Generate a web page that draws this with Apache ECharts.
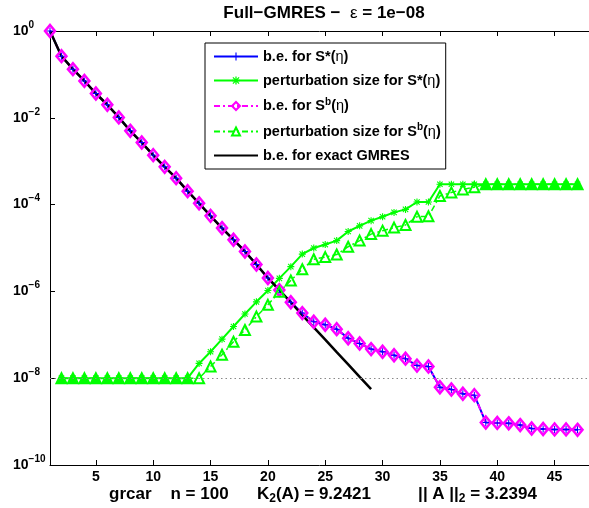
<!DOCTYPE html>
<html>
<head>
<meta charset="utf-8">
<script src="https://cdn.jsdelivr.net/npm/echarts@6/dist/echarts.min.js"></script>
<style>
  html, body { margin: 0; padding: 0; background: #fff; }
  #chart { width: 589px; height: 508px; }
</style>
</head>
<body>
<div id="chart"></div>
<script>
// 迭代步
var iters = [1, 2, 3, 4, 5, 6, 7, 8, 9, 10, 11, 12, 13, 14, 15, 16, 17, 18, 19, 20,
  21, 22, 23, 24, 25, 26, 27, 28, 29, 30, 31, 32, 33, 34, 35, 36, 37, 38, 39, 40,
  41, 42, 43, 44, 45, 46, 47];
var xTicks = [5, 10, 15, 20, 25, 30, 35, 40, 45];
var yTicks = [1e-10, 1e-8, 1e-6, 1e-4, 1e-2, 1];
var tol = 1e-8;

// b.e. for S*(eta) / S^b(eta), k = 1..47
var beStar = [1, 2.63e-1, 1.32e-1, 7.08e-2, 3.63e-2, 2.0e-2, 1.02e-2, 5.01e-3, 2.69e-3, 1.38e-3,
  7.41e-4, 4.07e-4, 2.04e-4, 1.07e-4, 5.5e-5, 2.88e-5, 1.55e-5, 8.32e-6, 4.17e-6, 2.04e-6,
  1.07e-6, 5.62e-7, 3.16e-7, 2.0e-7, 1.7e-7, 1.35e-7, 8.32e-8, 6.31e-8, 4.68e-8, 4.07e-8,
  3.39e-8, 2.82e-8, 1.95e-8, 1.86e-8, 6.17e-9, 5.5e-9, 4.37e-9, 4.07e-9, 9.55e-10, 9.33e-10,
  9.12e-10, 8.32e-10, 6.92e-10, 6.76e-10, 6.61e-10, 6.61e-10, 6.46e-10];
var beB = beStar.slice();
// perturbation sizes, k = 2..47
var pertStar = [1e-8, 1e-8, 1e-8, 1e-8, 1e-8, 1e-8, 1e-8, 1e-8, 1e-8, 1e-8, 1e-8, 1e-8,
  2.19e-8, 4.07e-8, 7.94e-8, 1.55e-7, 3.02e-7, 5.75e-7, 1.05e-6, 2.0e-6, 3.72e-6, 7.24e-6,
  1.0e-5, 1.2e-5, 1.48e-5, 2.4e-5, 3.24e-5, 4.27e-5, 5.25e-5, 6.61e-5, 7.76e-5, 1.15e-4,
  1.15e-4, 2.95e-4, 2.95e-4, 2.95e-4, 2.95e-4, 2.95e-4, 2.95e-4, 2.95e-4, 2.95e-4, 2.95e-4,
  2.95e-4, 2.95e-4, 2.95e-4, 2.95e-4];
var pertB = [1e-8, 1e-8, 1e-8, 1e-8, 1e-8, 1e-8, 1e-8, 1e-8, 1e-8, 1e-8, 1e-8, 1e-8,
  1e-8, 1.86e-8, 3.47e-8, 6.92e-8, 1.29e-7, 2.63e-7, 4.9e-7, 9.77e-7, 1.78e-6, 3.24e-6,
  5.5e-6, 6.17e-6, 7.08e-6, 1.07e-5, 1.48e-5, 2.09e-5, 2.51e-5, 2.95e-5, 3.39e-5, 5.25e-5,
  5.37e-5, 1.58e-4, 1.91e-4, 2.24e-4, 2.51e-4, 2.95e-4, 2.95e-4, 2.95e-4, 2.95e-4, 2.95e-4,
  2.95e-4, 2.95e-4, 2.95e-4, 2.95e-4];
// exact GMRES, k = 1..29
var beExact = [1, 2.63e-1, 1.32e-1, 7.08e-2, 3.63e-2, 2.0e-2, 1.02e-2, 5.01e-3, 2.69e-3, 1.38e-3,
  7.41e-4, 4.07e-4, 2.04e-4, 1.07e-4, 5.5e-5, 2.88e-5, 1.55e-5, 8.32e-6, 4.17e-6, 2.04e-6,
  1.07e-6, 5.62e-7, 2.82e-7, 1.48e-7, 7.76e-8, 3.98e-8, 2.09e-8, 1.07e-8, 5.62e-9];

var font = '"Liberation Sans", Arial, Helvetica, sans-serif';

function pairs(ys, start) {
  return ys.map(function (v, i) { return [iters[i + start], v]; });
}

// 三角形：与 * 曲线重合处显示为实心
var pertBData = pertB.map(function (v, i) {
  var item = { value: [iters[i + 1], v] };
  if (v === pertStar[i]) item.itemStyle = { color: '#00ff00' };
  return item;
});

var plusPath = 'path://M0,4.3H10V5.7H0Z M4.3,0H5.7V10H4.3Z';
var starPath = 'path://M0,4.2H10V5.8H0Z M4.2,0H5.8V10H4.2Z M0.6,1.7L1.7,0.6L9.4,8.3L8.3,9.4Z M8.3,0.6L9.4,1.7L1.7,9.4L0.6,8.3Z';

var legendText = {
  'b.e. for S*(η)': '{t|b.e. for S*(}{g|η}{t|)}',
  'perturbation size for S*(η)': '{t|perturbation size for S*(}{g|η}{t|)}',
  'b.e. for S^b(η)': '{t|b.e. for S}{s|b}{t|(}{g|η}{t|)}',
  'perturbation size for S^b(η)': '{t|perturbation size for S}{s|b}{t|(}{g|η}{t|)}',
  'b.e. for exact GMRES': '{t|b.e. for exact GMRES}'
};

var myChart = echarts.init(document.getElementById('chart'));

var option = {
  animation: false,
  backgroundColor: '#fff',
  grid: {
    left: 50,
    top: 31,
    right: -9,
    bottom: 43
  },
  legend: {
    orient: 'vertical',
    left: 205,
    top: 43,
    padding: [6, 5, 6, 8],
    borderColor: '#000',
    borderWidth: 1,
    backgroundColor: '#fff',
    itemWidth: 44,
    itemHeight: 10,
    itemGap: 9,
    data: ['b.e. for S*(η)', 'perturbation size for S*(η)', 'b.e. for S^b(η)',
      'perturbation size for S^b(η)',
      { name: 'b.e. for exact GMRES', itemStyle: { opacity: 0 } }],
    formatter: function (name) { return legendText[name]; },
    textStyle: {
      color: '#000',
      rich: {
        t: { fontSize: 14.5, fontWeight: 'bold', fontFamily: font, color: '#000', lineHeight: 18 },
        g: { fontSize: 14.5, fontFamily: font, color: '#000', lineHeight: 18 },
        s: { fontSize: 10, fontWeight: 'bold', fontFamily: font, color: '#000', lineHeight: 8, verticalAlign: 'top' }
      }
    }
  },
  xAxis: [
    {
      type: 'value',
      min: 1,
      max: 48,
      position: 'bottom',
      axisLine: { onZero: false, lineStyle: { color: '#000', width: 1 } },
      axisTick: { inside: true, length: 5, customValues: xTicks, lineStyle: { color: '#000' } },
      axisLabel: {
        customValues: xTicks,
        color: '#000',
        fontSize: 14,
        fontWeight: 'bold',
        fontFamily: font,
        margin: 5
      },
      splitLine: { show: false }
    },
    {
      type: 'value',
      min: 1,
      max: 48,
      position: 'top',
      axisLine: { onZero: false, lineStyle: { color: '#000', width: 1 } },
      axisTick: { inside: true, length: 5, customValues: xTicks, lineStyle: { color: '#000' } },
      axisLabel: { show: false },
      splitLine: { show: false }
    }
  ],
  yAxis: {
    type: 'log',
    logBase: 10,
    min: 1e-10,
    max: 1,
    axisLine: { show: true, onZero: false, lineStyle: { color: '#000', width: 1 } },
    axisTick: { show: true, inside: true, length: 5, customValues: yTicks, lineStyle: { color: '#000' } },
    minorTick: { show: false },
    splitLine: { show: false },
    axisLabel: {
      customValues: yTicks,
      align: 'left',
      margin: 37,
      formatter: function (v) {
        var e = Math.round(Math.log10(v));
        return '{b|10}{s|' + (e < 0 ? '−' + (-e) : e) + '}';
      },
      rich: {
        b: { fontSize: 14, fontWeight: 'bold', fontFamily: font, color: '#000', lineHeight: 22 },
        s: { fontSize: 10, fontWeight: 'bold', fontFamily: font, color: '#000', lineHeight: 8, verticalAlign: 'top' }
      }
    }
  },
  graphic: [
    {
      type: 'text',
      x: 324,
      y: 13,
      style: {
        text: '{t|Full−GMRES −  }{g|ε}{t| = 1e−08}',
        align: 'center',
        verticalAlign: 'middle',
        rich: {
          t: { fontSize: 17, fontWeight: 'bold', fontFamily: font, fill: '#000' },
          g: { fontSize: 17, fontFamily: font, fill: '#000' }
        }
      }
    },
    {
      type: 'text',
      x: 323,
      y: 494,
      style: {
        text: '{t|grcar    n = 100      K}{u|2}{t|(A) = 9.2421          || A ||}{u|2}{t| = 3.2394}',
        align: 'center',
        verticalAlign: 'middle',
        rich: {
          t: { fontSize: 17, fontWeight: 'bold', fontFamily: font, fill: '#000', lineHeight: 22 },
          u: { fontSize: 12, fontWeight: 'bold', fontFamily: font, fill: '#000', lineHeight: 8, verticalAlign: 'bottom' }
        }
      }
    }
  ],
  series: [
    {
      name: 'b.e. for S*(η)',
      type: 'line',
      data: pairs(beStar, 0),
      symbol: plusPath,
      symbolSize: 7,
      itemStyle: { color: '#0000ff', borderWidth: 0 },
      lineStyle: { color: '#0000ff', width: 2 },
      markLine: {
        silent: true,
        symbol: 'none',
        label: { show: false },
        lineStyle: { color: '#888', width: 1, type: [1.5, 3] },
        data: [[{ coord: [iters[0], tol] }, { coord: [48, tol] }]]
      }
    },
    {
      name: 'perturbation size for S*(η)',
      type: 'line',
      data: pairs(pertStar, 1),
      symbol: starPath,
      symbolSize: 7,
      itemStyle: { color: '#00ff00', borderWidth: 0 },
      lineStyle: { color: '#00ff00', width: 2 }
    },
    {
      name: 'b.e. for S^b(η)',
      type: 'line',
      data: pairs(beB, 0),
      symbol: 'diamond',
      symbolSize: [10, 12],
      itemStyle: { color: 'rgba(255,255,255,0)', borderColor: '#ff00ff', borderWidth: 2.5 },
      lineStyle: { color: '#ff00ff', width: 2, type: [6, 3, 2, 3] }
    },
    {
      name: 'perturbation size for S^b(η)',
      type: 'line',
      data: pertBData,
      symbol: 'triangle',
      symbolSize: 10,
      itemStyle: { color: 'rgba(255,255,255,0)', borderColor: '#00ff00', borderWidth: 2 },
      lineStyle: { color: '#00ff00', width: 1.5, type: [6, 3, 2, 3] }
    },
    {
      name: 'b.e. for exact GMRES',
      type: 'line',
      data: pairs(beExact, 0),
      symbol: 'none',
      showSymbol: false,
      itemStyle: { color: '#000' },
      lineStyle: { color: '#000', width: 2.5 }
    }
  ]
};

myChart.setOption(option);
</script>
</body>
</html>
